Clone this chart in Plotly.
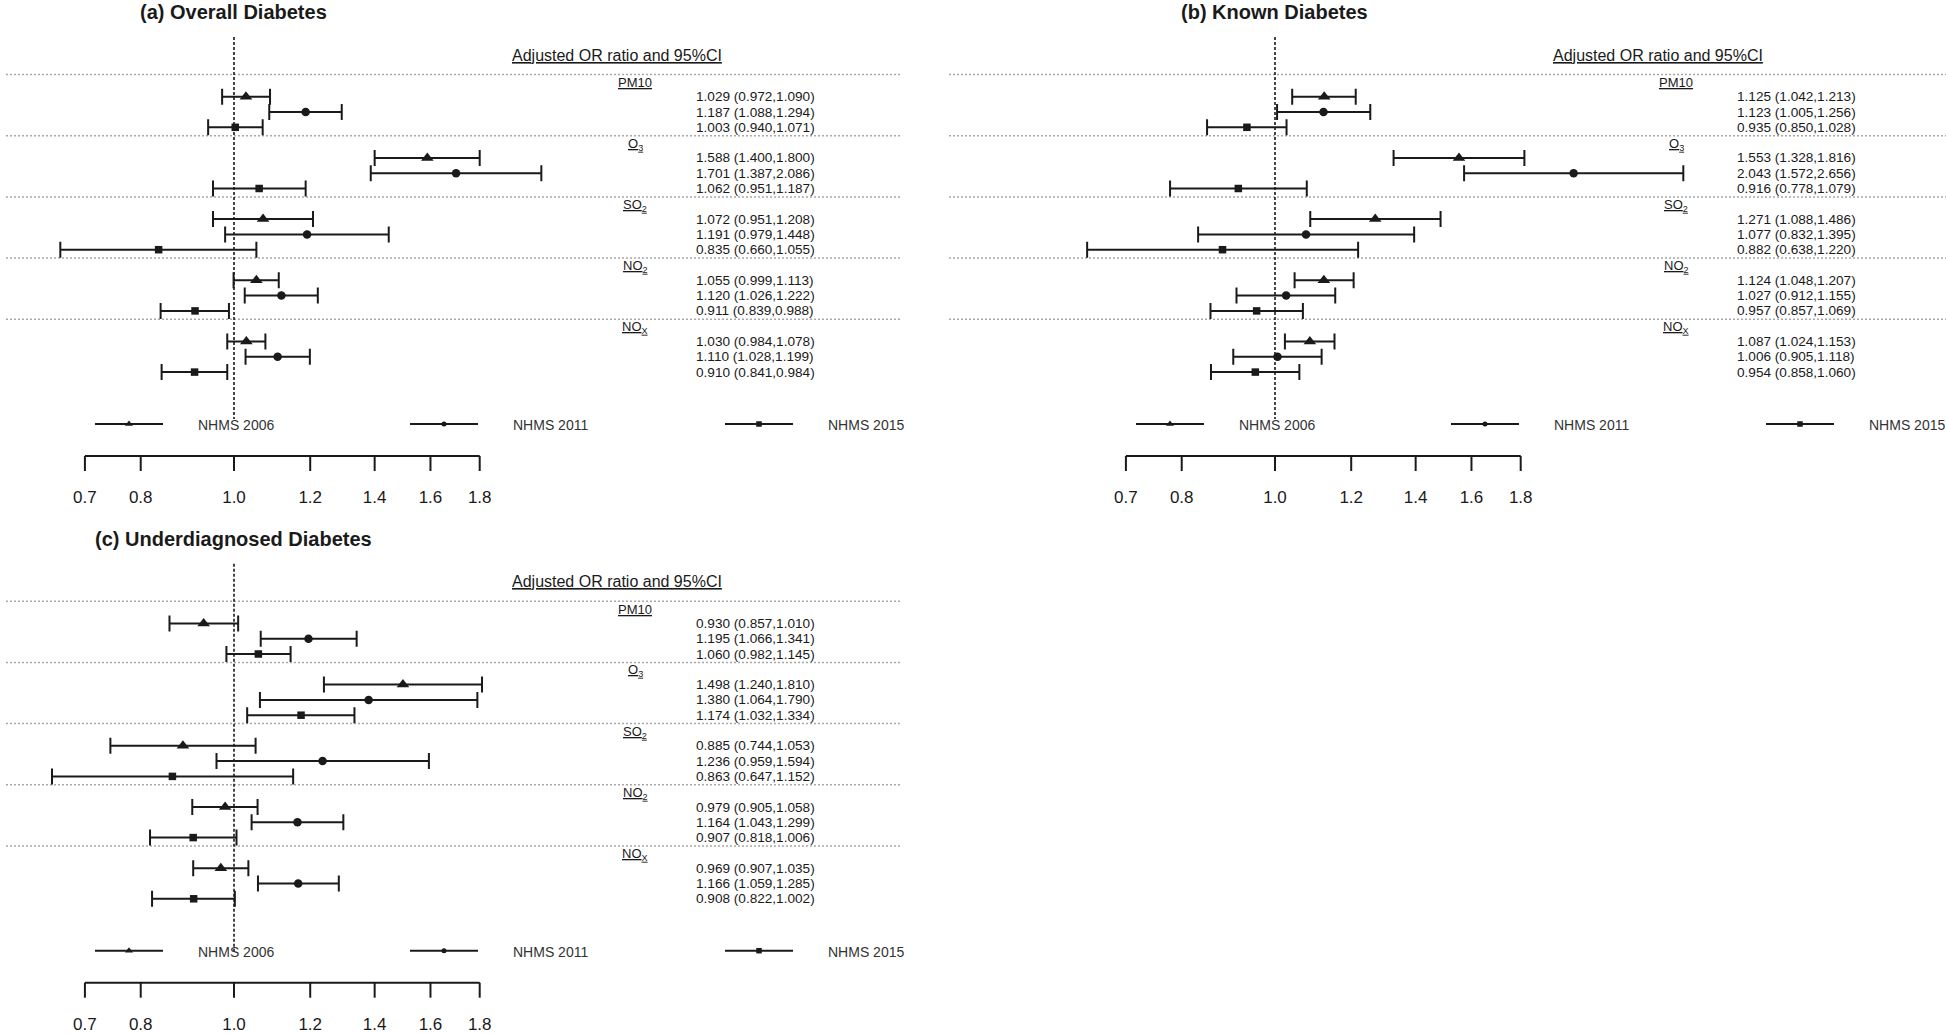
import plotly.graph_objects as go

W, H = 1946, 1034

# ---------------- data ----------------
pollutants = ["PM10", "O<sub>3</sub>", "SO<sub>2</sub>", "NO<sub>2</sub>", "NO<sub>X</sub>"]
surveys = ["NHMS 2006", "NHMS 2011", "NHMS 2015"]
symbols = ["triangle-up", "circle", "square"]

# rows: pollutant; columns: NHMS 2006, 2011, 2015
overall_or = [[1.029, 1.187, 1.003], [1.588, 1.701, 1.062], [1.072, 1.191, 0.835], [1.055, 1.120, 0.911], [1.030, 1.110, 0.910]]
overall_lo = [[0.972, 1.088, 0.940], [1.400, 1.387, 0.951], [0.951, 0.979, 0.660], [0.999, 1.026, 0.839], [0.984, 1.028, 0.841]]
overall_hi = [[1.090, 1.294, 1.071], [1.800, 2.086, 1.187], [1.208, 1.448, 1.055], [1.113, 1.222, 0.988], [1.078, 1.199, 0.984]]

known_or = [[1.125, 1.123, 0.935], [1.553, 2.043, 0.916], [1.271, 1.077, 0.882], [1.124, 1.027, 0.957], [1.087, 1.006, 0.954]]
known_lo = [[1.042, 1.005, 0.850], [1.328, 1.572, 0.778], [1.088, 0.832, 0.638], [1.048, 0.912, 0.857], [1.024, 0.905, 0.858]]
known_hi = [[1.213, 1.256, 1.028], [1.816, 2.656, 1.079], [1.486, 1.395, 1.220], [1.207, 1.155, 1.069], [1.153, 1.118, 1.060]]

under_or = [[0.930, 1.195, 1.060], [1.498, 1.380, 1.174], [0.885, 1.236, 0.863], [0.979, 1.164, 0.907], [0.969, 1.166, 0.908]]
under_lo = [[0.857, 1.066, 0.982], [1.240, 1.064, 1.032], [0.744, 0.959, 0.647], [0.905, 1.043, 0.818], [0.907, 1.059, 0.822]]
under_hi = [[1.010, 1.341, 1.145], [1.810, 1.790, 1.334], [1.053, 1.594, 1.152], [1.058, 1.299, 1.006], [1.035, 1.285, 1.002]]

tick_vals = [0.7, 0.8, 1.0, 1.2, 1.4, 1.6, 1.8]
tick_text = ["0.7", "0.8", "1.0", "1.2", "1.4", "1.6", "1.8"]
null_value = 1.0

panels = [
    dict(title="(a) Overall Diabetes", vals=(overall_or, overall_lo, overall_hi),
         dx=0, dy=0, xdom=(0, 928), ydom=(0, 518), sep=(6, 902), vbot=419),
    dict(title="(b) Known Diabetes", vals=(known_or, known_lo, known_hi),
         dx=1041, dy=0, xdom=(932, 1946), ydom=(0, 518), sep=(949, 1946), vbot=419),
    dict(title="(c) Underdiagnosed Diabetes", vals=(under_or, under_lo, under_hi),
         dx=0, dy=526.7, xdom=(0, 928), ydom=(518, 1034), sep=(6, 902), vbot=425),
]

# ---------------- layout constants (pixels, panel-local) ----------------
X1 = 234.0      # pixel of OR = 1
PXD = 962.5     # pixels per decade (log10)
ROW0 = 81.4     # pixel of row 0
ROWH = 15.3     # pixels per row

FONT = "Liberation Sans, Arial, sans-serif"
INK = "#1a1a1a"


def row_of(py):
    return (py - ROW0) / ROWH


def val_of(px):
    return 10 ** ((px - X1) / PXD)


fig = go.Figure()
annotations = []
shapes = []
layout_axes = {}

for i, p in enumerate(panels):
    sfx = "" if i == 0 else str(i + 1)
    xa, ya = "x" + sfx, "y" + sfx
    dx, dy = p["dx"], p["dy"]
    x0 = X1 + dx
    r0 = ROW0 + dy
    xd, yd = p["xdom"], p["ydom"]
    layout_axes["xaxis" + sfx] = dict(
        type="log", domain=[xd[0] / W, xd[1] / W],
        range=[(xd[0] - x0) / PXD, (xd[1] - x0) / PXD],
        visible=False, anchor=ya, fixedrange=True)
    layout_axes["yaxis" + sfx] = dict(
        domain=[1 - yd[1] / H, 1 - yd[0] / H],
        range=[(yd[1] - r0) / ROWH, (yd[0] - r0) / ROWH],
        visible=False, anchor=xa, fixedrange=True)

    ors, los, his = p["vals"]

    # reference line at OR = 1
    fig.add_trace(go.Scatter(
        x=[null_value, null_value], y=[row_of(37), row_of(p["vbot"])], mode="lines",
        line=dict(color=INK, width=1.6, dash="3px,2px"),
        xaxis=xa, yaxis=ya, showlegend=False, hoverinfo="skip"))

    # separators
    for g in range(len(pollutants)):
        shapes.append(dict(
            type="line", xref="paper", yref=ya,
            x0=p["sep"][0] / W, x1=p["sep"][1] / W, y0=4 * g - 0.45, y1=4 * g - 0.45,
            line=dict(color="#a8a8a8", width=1.5, dash="2px,2px"), layer="below"))

    # forest points with CIs
    sizes = [11, 8.5, 7.5]
    for s in range(3):
        xs = [ors[g][s] for g in range(len(pollutants))]
        ys = [4 * g + 1 + s for g in range(len(pollutants))]
        plus = [his[g][s] - ors[g][s] for g in range(len(pollutants))]
        minus = [ors[g][s] - los[g][s] for g in range(len(pollutants))]
        fig.add_trace(go.Scatter(
            x=xs, y=ys, mode="markers",
            marker=dict(symbol=symbols[s], size=sizes[s], color=INK),
            error_x=dict(type="data", symmetric=False, array=plus, arrayminus=minus,
                         width=8, thickness=2, color=INK),
            xaxis=xa, yaxis=ya, showlegend=False, name=surveys[s]))

    # values text and pollutant labels
    for g in range(len(pollutants)):
        annotations.append(dict(
            x=(635 + dx) / W, xref="paper", y=4 * g + 0.1, yref=ya,
            xanchor="center", yanchor="middle",
            text="<u>" + pollutants[g] + "</u>", showarrow=False,
            font=dict(family=FONT, size=13, color=INK)))
        for s in range(3):
            annotations.append(dict(
                x=(694 + dx) / W, xref="paper", y=4 * g + 1 + s, yref=ya,
                xanchor="left", yanchor="middle",
                text="%.3f (%.3f,%.3f)" % (ors[g][s], los[g][s], his[g][s]),
                showarrow=False, font=dict(family=FONT, size=13.6, color=INK)))

    # header and title
    annotations.append(dict(
        x=(617 + dx) / W, xref="paper", y=row_of(55), yref=ya,
        xanchor="center", yanchor="middle",
        text="<u>Adjusted OR ratio and 95%CI</u>", showarrow=False,
        font=dict(family=FONT, size=16, color=INK)))
    annotations.append(dict(
        x=(233 + dx) / W, xref="paper", y=1 - (12 + dy) / H, yref="paper",
        xanchor="center", yanchor="middle",
        text="<b>" + p["title"] + "</b>", showarrow=False,
        font=dict(family=FONT, size=20, color=INK)))

    # legend keys
    leg_row = row_of(424)
    leg_sizes = [7, 5, 5.5]
    for s in range(3):
        c = 129 + 315 * s
        fig.add_trace(go.Scatter(
            x=[val_of(c - 34), val_of(c + 34)], y=[leg_row, leg_row], mode="lines",
            line=dict(color=INK, width=2), xaxis=xa, yaxis=ya,
            showlegend=False, hoverinfo="skip"))
        fig.add_trace(go.Scatter(
            x=[val_of(c)], y=[leg_row], mode="markers",
            marker=dict(symbol=symbols[s], size=leg_sizes[s], color=INK),
            xaxis=xa, yaxis=ya, showlegend=False, hoverinfo="skip"))
        annotations.append(dict(
            x=(195.5 + 315 * s + dx) / W, xref="paper", y=row_of(425), yref=ya,
            xanchor="left", yanchor="middle", text=surveys[s], showarrow=False,
            font=dict(family=FONT, size=14, color="#333333")))

    # bottom axis (line, ticks, labels)
    ax_row = row_of(456)
    tk_row = row_of(471)
    fig.add_trace(go.Scatter(
        x=[tick_vals[0], tick_vals[-1]], y=[ax_row, ax_row], mode="lines",
        line=dict(color=INK, width=2), xaxis=xa, yaxis=ya,
        showlegend=False, hoverinfo="skip"))
    tx, ty = [], []
    for t in tick_vals:
        tx += [t, t, None]
        ty += [ax_row, tk_row, None]
    fig.add_trace(go.Scatter(
        x=tx, y=ty, mode="lines", line=dict(color=INK, width=2),
        xaxis=xa, yaxis=ya, showlegend=False, hoverinfo="skip"))
    fig.add_trace(go.Scatter(
        x=tick_vals, y=[row_of(499)] * len(tick_vals), mode="text", text=tick_text,
        textposition="middle center", textfont=dict(family=FONT, size=17, color=INK),
        xaxis=xa, yaxis=ya, showlegend=False, hoverinfo="skip"))

fig.update_layout(
    width=W, height=H, margin=dict(l=0, r=0, t=0, b=0),
    paper_bgcolor="white", plot_bgcolor="rgba(0,0,0,0)",
    showlegend=False, annotations=annotations, shapes=shapes,
    **layout_axes)

fig.write_html("out.html", config={"displayModeBar": False},
               post_script="document.body.style.margin='0';document.body.style.overflow='hidden';")
